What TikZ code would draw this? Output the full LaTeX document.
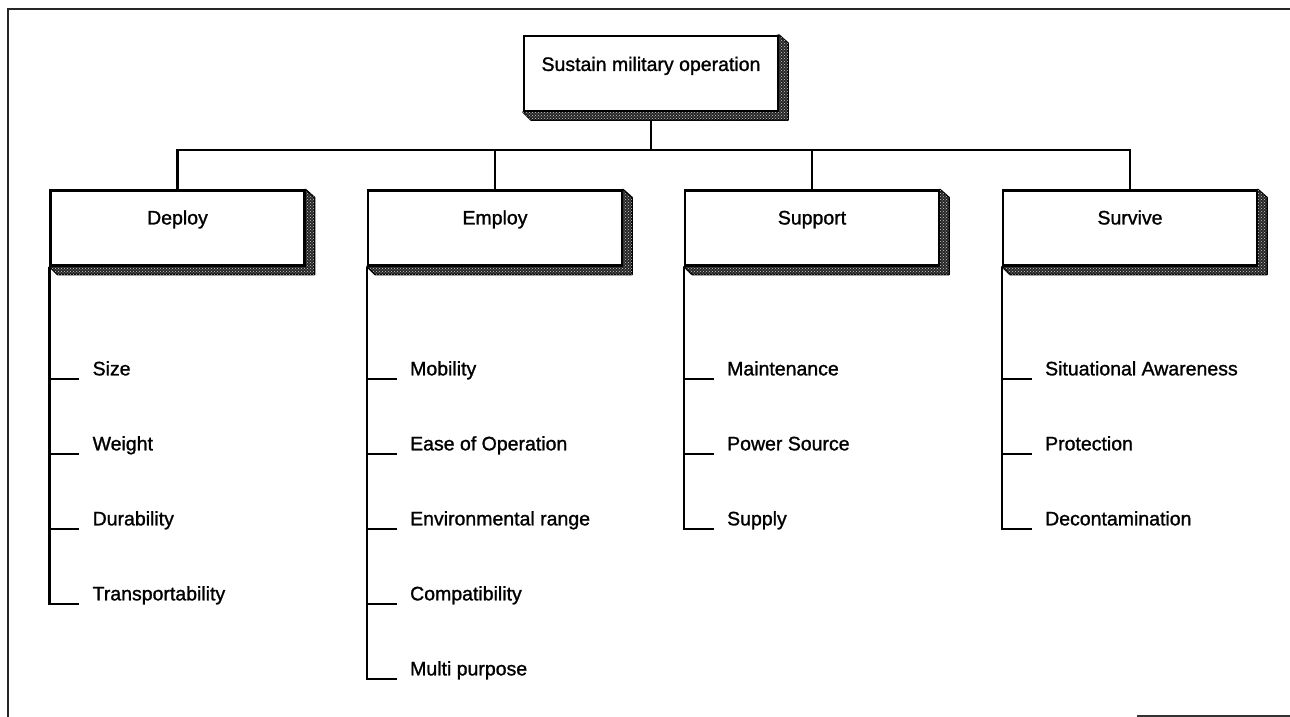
\documentclass[tikz,border=0pt]{standalone}
\usepackage{fontspec}
\setmainfont{Liberation Sans}
\newfontfamily\thickfont{Liberation Sans}[FakeBold=1.2]
\usetikzlibrary{calc,patterns}
\pgfdeclarelayer{bg}
\pgfdeclarelayer{paper}
\pgfsetlayers{paper,bg,main}
\newcommand\boxshade[1]{%
  \draw[shadestrip] (#1.north east) -- ($(#1.north east)+(9,8)$) -- ($(#1.south east)+(9,8)$) -- ($(#1.south west)+(8,8)$) -- (#1.south west) -- cycle;}
\begin{document}
\begin{tikzpicture}[x=1pt,y=-1pt,
  conn/.style={line width=2.1pt,black},
  catbox/.style={draw=black,line width=2.1pt,fill=white,minimum width=254pt,minimum height=75pt,inner sep=0pt},
  boxtext/.style={anchor=base,inner sep=0pt,font=\thickfont\fontsize{19.5}{23}\selectfont},
  item/.style={anchor=south west,inner xsep=13pt,inner ysep=3pt,text depth=0pt,font=\thickfont\fontsize{19.5}{23}\selectfont},
  shadestrip/.style={fill=black!85,draw=black,line width=1.4pt,line join=round,
    postaction={pattern=crosshatch dots,pattern color=white!80!black}}]
\useasboundingbox (0,0) rectangle (1290,717);
\begin{pgfonlayer}{paper}
\fill[white] (0,0) rectangle (1290,717);
\end{pgfonlayer}
% frame
\draw[line width=1.8pt,black!85] (8,717) -- (8,9) -- (1290,9);
\draw[line width=1.6pt,black!80] (1137,716) -- (1290,716);
% boxes
\node[catbox] (top) at (651,73.5) {};
\node[catbox] (dep) at (177.5,228) {};
\node[catbox] (emp) at (495,228) {};
\node[catbox] (sup) at (812,228) {};
\node[catbox] (sur) at (1130,228) {};
\node[boxtext] (topt) at ($(top.north)+(0,36)$) {Sustain military operation};
\node[boxtext] (dept) at ($(dep.north)+(0,35)$) {Deploy};
\node[boxtext] (empt) at ($(emp.north)+(0,35)$) {Employ};
\node[boxtext] (supt) at ($(sup.north)+(0,35)$) {Support};
\node[boxtext] (surt) at ($(sur.north)+(0,35)$) {Survive};
% items
\node[item] (size) at ($(dep.south west)+(30,112)$) {Size};
\node[item] (weight) at ($(dep.south west)+(30,187)$) {Weight};
\node[item] (dura) at ($(dep.south west)+(30,262)$) {Durability};
\node[item] (trans) at ($(dep.south west)+(30,337)$) {Transportability};
\node[item] (mob) at ($(emp.south west)+(30,112)$) {Mobility};
\node[item] (ease) at ($(emp.south west)+(30,187)$) {Ease of Operation};
\node[item] (env) at ($(emp.south west)+(30,262)$) {Environmental range};
\node[item] (comp) at ($(emp.south west)+(30,337)$) {Compatibility};
\node[item] (multi) at ($(emp.south west)+(30,412)$) {Multi purpose};
\node[item] (maint) at ($(sup.south west)+(30,112)$) {Maintenance};
\node[item] (power) at ($(sup.south west)+(30,187)$) {Power Source};
\node[item] (supply) at ($(sup.south west)+(30,262)$) {Supply};
\node[item] (sit) at ($(sur.south west)+(30,112)$) {Situational Awareness};
\node[item] (prot) at ($(sur.south west)+(30,187)$) {Protection};
\node[item] (decon) at ($(sur.south west)+(30,262)$) {Decontamination};
\begin{pgfonlayer}{bg}
  \draw[conn] (top.south) -- ++(0,38) -| (dep.north);
  \draw[conn] (top.south) -- ++(0,38) -| (emp.north);
  \draw[conn] (top.south) -- ++(0,38) -| (sup.north);
  \draw[conn] (top.south) -- ++(0,38) -| (sur.north);
  \foreach \b/\i in {dep/size,dep/weight,dep/dura,dep/trans,
                     emp/mob,emp/ease,emp/env,emp/comp,emp/multi,
                     sup/maint,sup/power,sup/supply,
                     sur/sit,sur/prot,sur/decon}
    {\draw[conn] (\b.south west) |- (\i.south west);}
  \boxshade{top}
  \boxshade{dep}
  \boxshade{emp}
  \boxshade{sup}
  \boxshade{sur}
\end{pgfonlayer}
\end{tikzpicture}
\end{document}
